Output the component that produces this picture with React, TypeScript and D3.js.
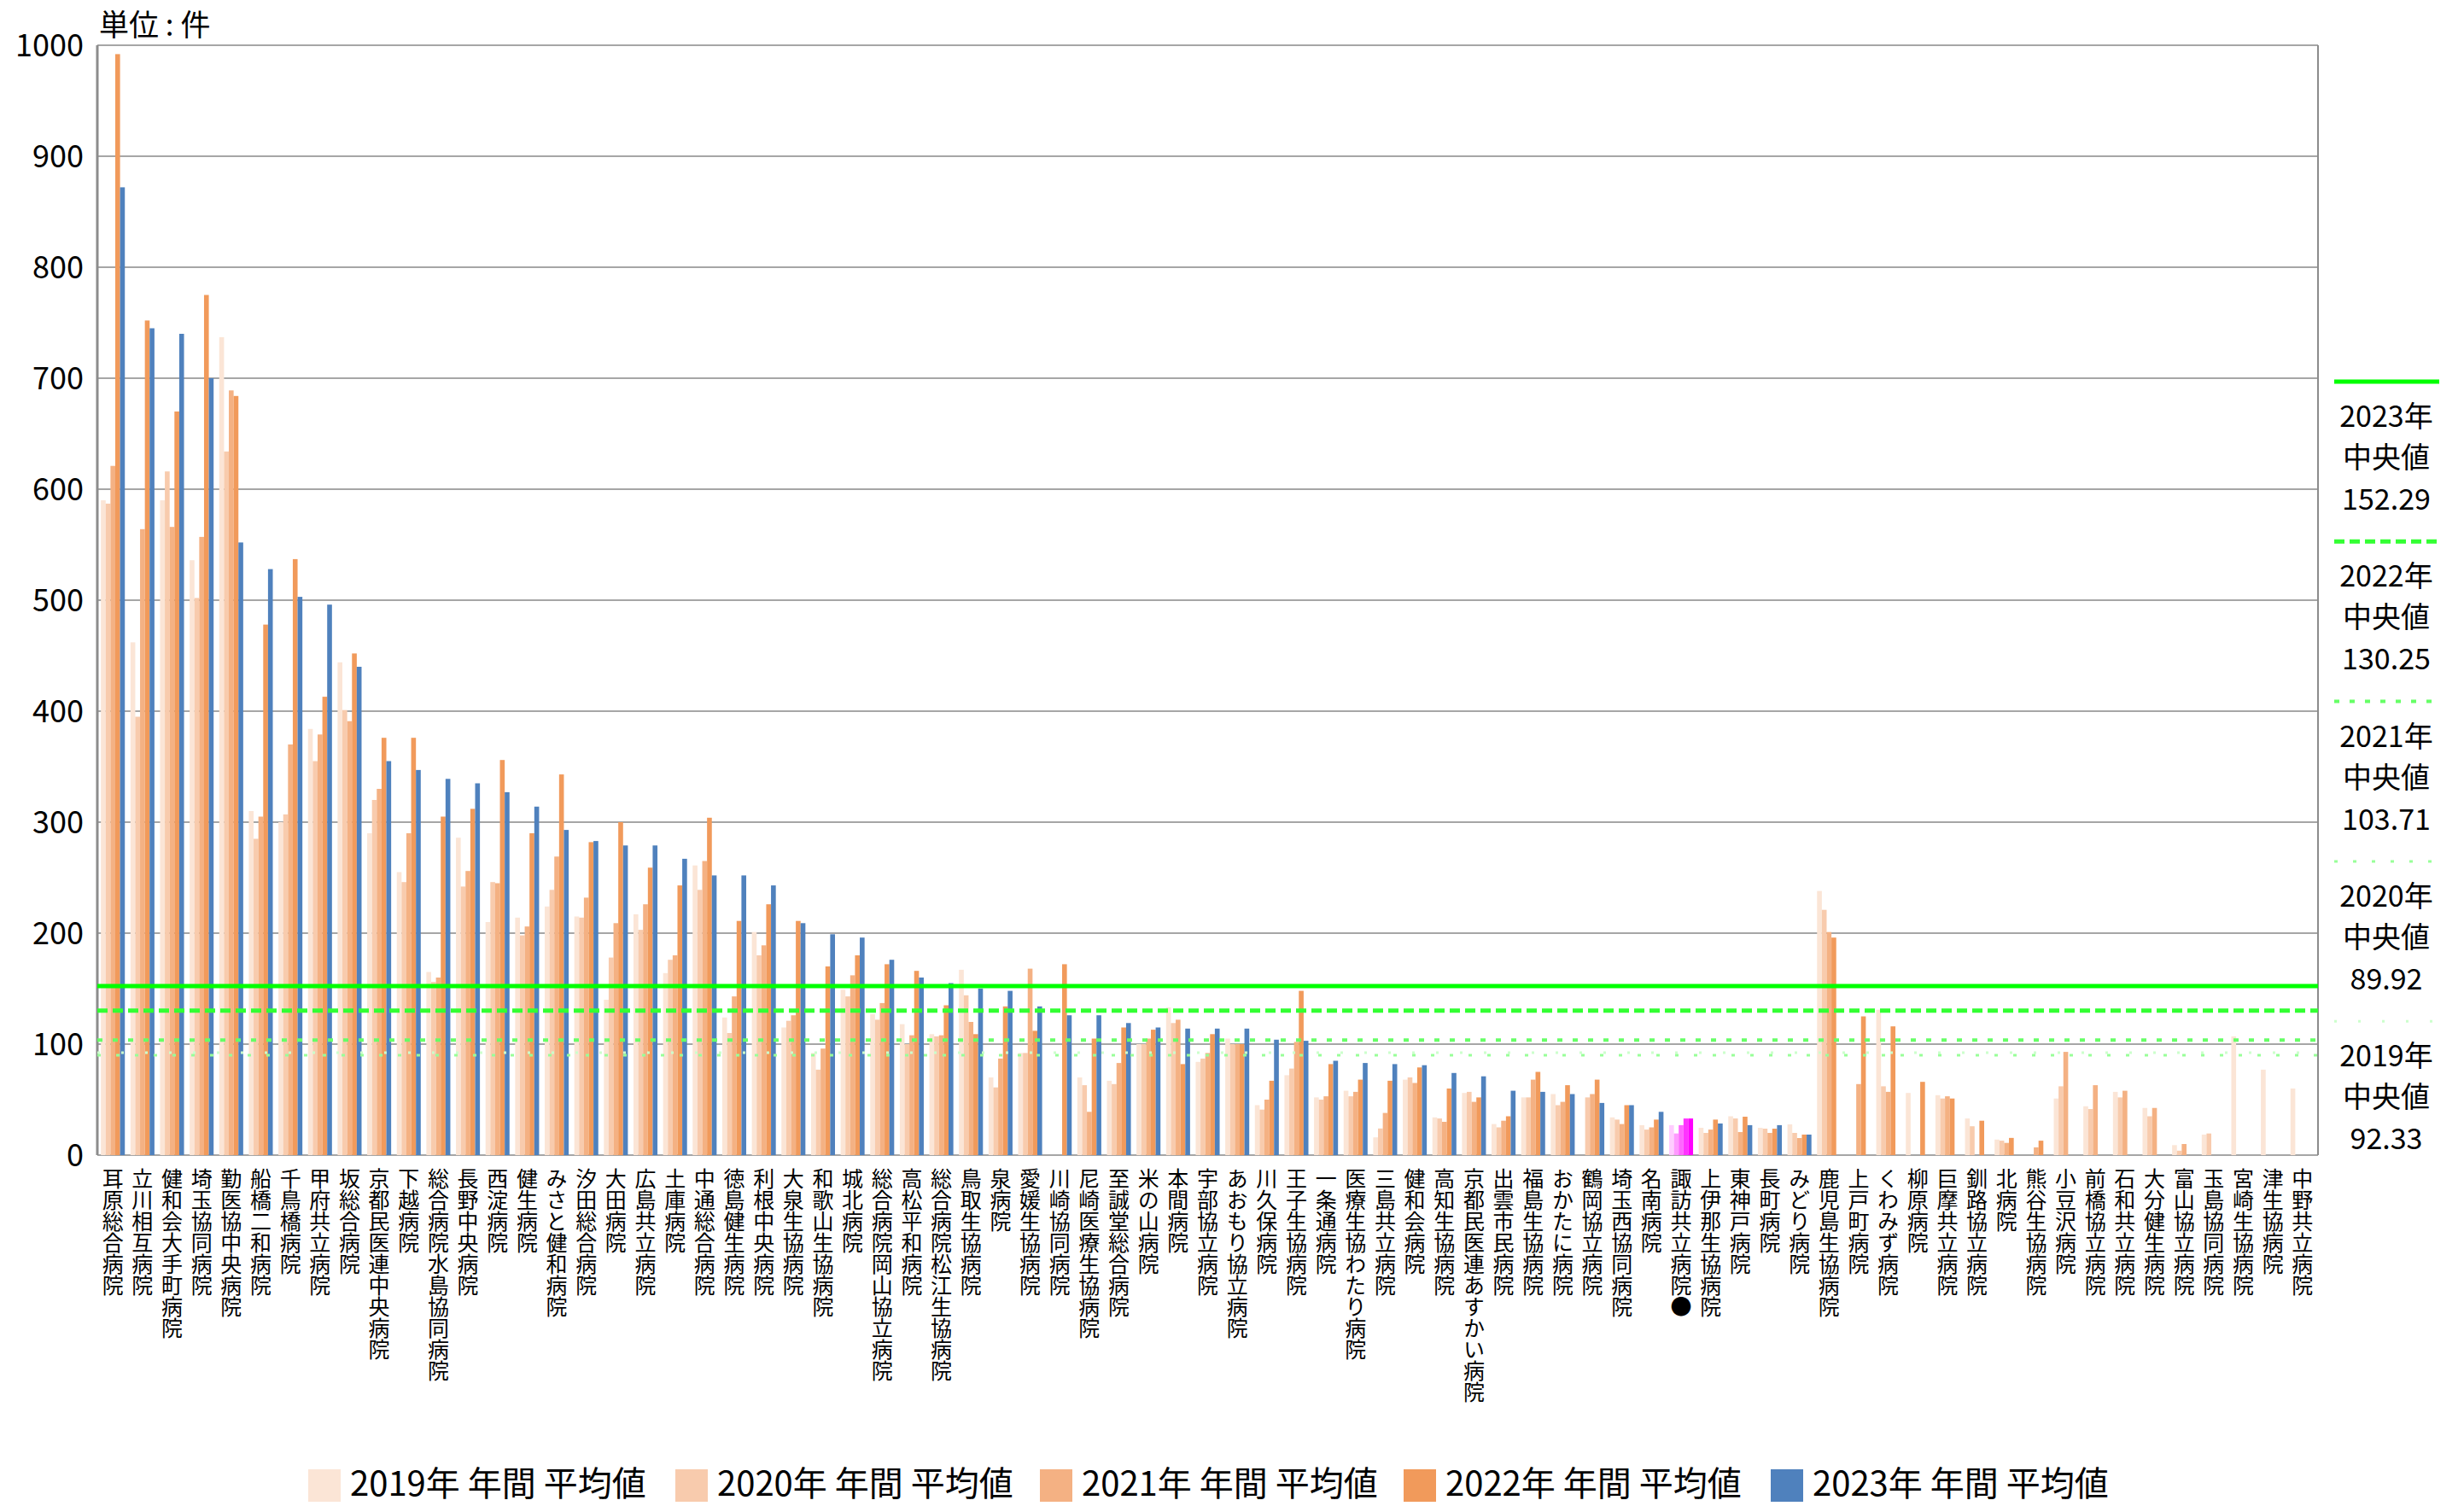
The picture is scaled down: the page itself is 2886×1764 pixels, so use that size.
import React, { useEffect } from 'react';
import * as d3 from 'd3';

// 病院名 (x軸カテゴリ)
const hospitals = [
  '耳原総合病院', '立川相互病院', '健和会大手町病院', '埼玉協同病院', '勤医協中央病院',
  '船橋二和病院', '千鳥橋病院', '甲府共立病院', '坂総合病院', '京都民医連中央病院',
  '下越病院', '総合病院水島協同病院', '長野中央病院', '西淀病院', '健生病院',
  'みさと健和病院', '汐田総合病院', '大田病院', '広島共立病院', '土庫病院',
  '中通総合病院', '徳島健生病院', '利根中央病院', '大泉生協病院', '和歌山生協病院',
  '城北病院', '総合病院岡山協立病院', '高松平和病院', '総合病院松江生協病院', '鳥取生協病院',
  '泉病院', '愛媛生協病院', '川崎協同病院', '尼崎医療生協病院', '至誠堂総合病院',
  '米の山病院', '本間病院', '宇部協立病院', 'あおもり協立病院', '川久保病院',
  '王子生協病院', '一条通病院', '医療生協わたり病院', '三島共立病院', '健和会病院',
  '高知生協病院', '京都民医連あすかい病院', '出雲市民病院', '福島生協病院', 'おかたに病院',
  '鶴岡協立病院', '埼玉西協同病院', '名南病院', '諏訪共立病院●', '上伊那生協病院',
  '東神戸病院', '長町病院', 'みどり病院', '鹿児島生協病院', '上戸町病院',
  'くわみず病院', '柳原病院', '巨摩共立病院', '釧路協立病院', '北病院',
  '熊谷生協病院', '小豆沢病院', '前橋協立病院', '石和共立病院', '大分健生病院',
  '富山協立病院', '玉島協同病院', '宮崎生協病院', '津生協病院', '中野共立病院',
];

const highlight = '諏訪共立病院●';

const years = ['2019', '2020', '2021', '2022', '2023'];

// 年間平均値 (件)
const v2019 = [
  590, 462, 590, 536, 737, 310, 300, 384, 444, 290, 255, 165, 286, 210, 214,
  224, 215, 140, 217, 164, 261, 124, 201, 115, 92, 149, 127, 118, 109, 167,
  70, 92, null, 70, 67, 100, 133, 84, 105, 45, 72, 52, 58, 16, 68,
  34, 56, 28, 52, 55, null, 34, 27, 27, 24.6, 35, 24.6, 27.7, 238, null,
  131, 56, 54, 33, 14, null, 51, 44, 57, 42.5, 9, 18.5, 107, 77, 60,
];
const v2020 = [
  587, 395, 616, 502, 634, 285, 307, 355, 401, 320, 246, 156, 242, 246, 198,
  239, 214, 178, 203, 176, 239, 110, 180, 121, 77, 143, 122, 100, 107, 144,
  61, 92, null, 63, 64, 100, 119, 87, 100, 41, 78, 50, 53, 24, 70,
  33, 57, 25, 52, 45, 52, 32, 23, 19.5, 20, 33, 23.8, 20, 221, null,
  62, null, 51, 26, 13, null, 62, 41.5, 52, 35, 4, 19.5, null, null, null,
];
const v2021 = [
  621, 564, 566, 557, 689, 305, 370, 379, 391, 330, 290, 160, 256, 245, 206,
  269, 232, 209, 226, 180, 265, 143, 189, 126, 96, 162, 137, 108, 108, 120,
  87, 168, null, 39, 83, 105, 122, 92, 100, 50, 102, 53, 57, 38, 65,
  30, 48, 31, 68, 48, 55, 28, 25, 27, 23, 20.8, 20, 15.4, 201, 64,
  57, null, 53, null, 11, 7, 93, 63, 58, 42.5, 10, null, null, null, null,
];
const v2022 = [
  992, 752, 670, 775, 684, 478, 537, 413, 452, 376, 376, 305, 312, 356, 290,
  343, 282, 300, 259, 243, 304, 211, 226, 211, 170, 180, 172, 166, 135, 109,
  134, 112, 172, 105, 115, 113, 82, 109, 100, 67, 148, 82, 68, 67, 79,
  60, 52, 35, 75, 63, 68, 45, 32, 33, 32, 34.6, 23.8, 18.5, 196, 125,
  116, 66, 51, 31, 15.5, 13, null, null, null, null, null, null, null, null, null,
];
const v2023 = [
  872, 745, 740, 700, 552, 528, 503, 496, 440, 355, 347, 339, 335, 327, 314,
  293, 283, 279, 279, 267, 252, 252, 243, 209, 199, 196, 176, 160, 155, 150,
  148, 134, 126, 126, 119, 115, 114, 114, 114, 104, 103, 85, 83, 82, 81,
  74, 71, 58, 57, 55, 47, 45, 39, 33, 28.5, 27, 27, 18.5, null, null,
  null, null, null, null, null, null, null, null, null, null, null, null, null, null, null,
];

// 中央値
const medians = [92.33, 89.92, 103.71, 130.25, 152.29];

const yTicks = [0, 100, 200, 300, 400, 500, 600, 700, 800, 900, 1000];

const barColors = ['#FBE5D6', '#F8CBAD', '#F4B183', '#F19A5B', '#4F81BD'];
const pinkColors = ['#FFCCFF', '#FF99FF', '#FF66FF', '#FF33FF', '#FF00FF'];

const medianStyles = [
  { color: '#CCFFCC', width: 3, dash: '3 25' },
  { color: '#99FF99', width: 3, dash: '4 18' },
  { color: '#66FF66', width: 4, dash: '6 12' },
  { color: '#33FF33', width: 5, dash: '12 6' },
  { color: '#00FF00', width: 5, dash: null },
];

const font = '"Noto Sans CJK JP", "Noto Sans", sans-serif';

const App = () => {
  useEffect(() => {
    document.body.style.margin = '0';
  }, []);

  const W = 2886;
  const H = 1764;
  const left = 114;
  const right = 2715;
  const top = 53;
  const bottom = 1353;

  const series = [v2019, v2020, v2021, v2022, v2023];

  const x0 = d3.scaleBand().domain(hospitals).range([left, right]).paddingInner(0.19).paddingOuter(0.12);
  const x1 = d3.scaleBand().domain(years).range([0, x0.bandwidth()]);
  const y = d3.scaleLinear().domain([0, 1000]).range([bottom, top]);

  return (
    <svg width={W} height={H} style={{ display: 'block', background: '#fff' }} fontFamily={font}>
      {/* 単位 */}
      <text x={116} y={42} fontSize={35} fill="#000">単位 : 件</text>

      {/* grid */}
      {yTicks.map(t => (
        <g key={t}>
          <line x1={left} x2={right} y1={y(t)} y2={y(t)} stroke="#A6A6A6" strokeWidth={2} />
          <text x={98} y={y(t)} dy="0.36em" textAnchor="end" fontSize={36} fill="#000">{t}</text>
        </g>
      ))}
      <line x1={left} x2={left} y1={top} y2={bottom} stroke="#8C8C8C" strokeWidth={3} />
      <line x1={right} x2={right} y1={top} y2={bottom} stroke="#8C8C8C" strokeWidth={2} />

      {/* bars */}
      {hospitals.map((h, i) => (
        <g key={h} transform={`translate(${x0(h)},0)`}>
          {years.map((yr, j) => {
            const v = series[j][i];
            if (v == null) return null;
            const col = h === highlight ? pinkColors[j] : barColors[j];
            return (
              <rect key={yr} x={x1(yr)} y={y(v)} width={x1.bandwidth()} height={bottom - y(v)} fill={col} />
            );
          })}
        </g>
      ))}

      {/* 中央値 lines */}
      {medians.map((m, j) => (
        <line
          key={years[j]}
          x1={left}
          x2={right}
          y1={y(m)}
          y2={y(m)}
          stroke={medianStyles[j].color}
          strokeWidth={medianStyles[j].width}
          strokeDasharray={medianStyles[j].dash || undefined}
        />
      ))}

      {/* category labels */}
      {hospitals.map(h => (
        <text
          key={h}
          x={(x0(h) as number) + x0.bandwidth() / 2}
          y={bottom + 15}
          fontSize={25}
          fill="#000"
          style={{ writingMode: 'vertical-rl' }}
        >
          {h}
        </text>
      ))}

      {/* right side median legend */}
      {[4, 3, 2, 1, 0].map((j, k) => {
        const ly = 447 + k * 187.3;
        const st = medianStyles[j];
        return (
          <g key={years[j]}>
            <line x1={2734} x2={2857} y1={ly} y2={ly} stroke={st.color} strokeWidth={st.width}
              strokeDasharray={st.dash || undefined} />
            <text x={2795} y={ly + 53} textAnchor="middle" fontSize={34} fill="#000">{years[j]}年</text>
            <text x={2795} y={ly + 101} textAnchor="middle" fontSize={34} fill="#000">中央値</text>
            <text x={2795} y={ly + 150} textAnchor="middle" fontSize={34} fill="#000">{medians[j].toFixed(2)}</text>
          </g>
        );
      })}

      {/* bottom legend */}
      {years.map((yr, j) => {
        const lx = [361, 791, 1218, 1644, 2074][j];
        return (
          <g key={yr}>
            <rect x={lx} y={1721} width={38} height={38} fill={barColors[j]} />
            <text x={lx + 49} y={1752} fontSize={40} fill="#000">{yr}年 年間 平均値</text>
          </g>
        );
      })}
    </svg>
  );
};

export default App;
